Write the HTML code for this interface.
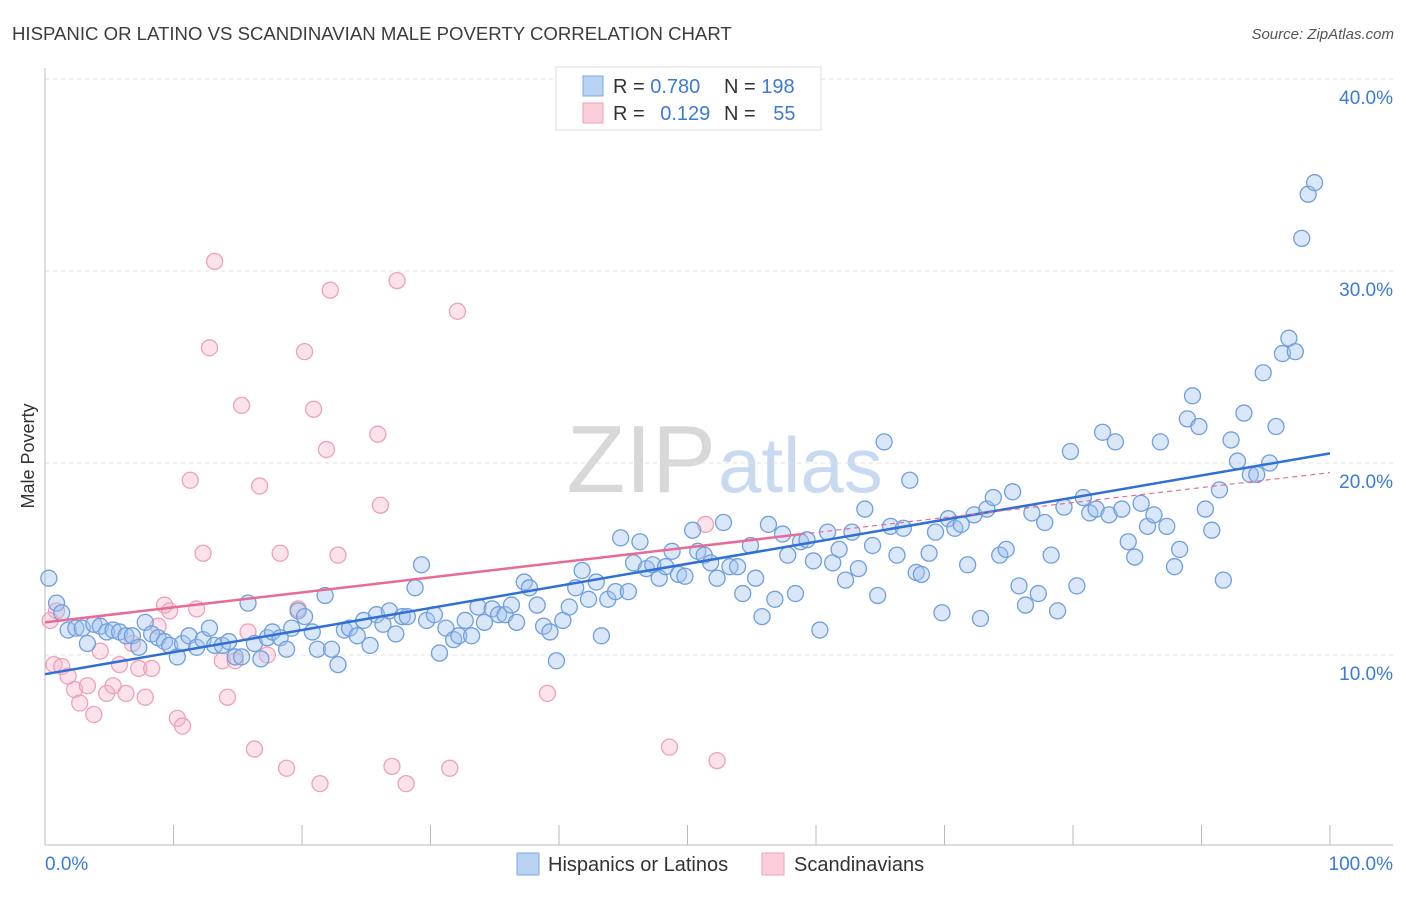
<!DOCTYPE html>
<html><head><meta charset="utf-8"><style>
body{margin:0;background:#fff;font-family:"Liberation Sans",sans-serif;}
svg text{font-family:"Liberation Sans",sans-serif;}
</style></head><body>
<svg id="chart" width="1406" height="892" viewBox="0 0 1406 892" xmlns="http://www.w3.org/2000/svg">
<text x="12" y="40" font-size="18.6" fill="#3c3c3c">HISPANIC OR LATINO VS SCANDINAVIAN MALE POVERTY CORRELATION CHART</text>
<text x="1394" y="39" font-size="15" fill="#555" font-style="italic" text-anchor="end">Source: ZipAtlas.com</text>
<text x="716" y="492" font-size="96" fill="#d8d8d8" text-anchor="end" font-family="Liberation Serif">ZIP</text>
<text x="718" y="492" font-size="78" fill="#c8daf0">atlas</text>
<text transform="translate(34,456) rotate(-90)" font-size="18" fill="#333" text-anchor="middle">Male Poverty</text>
<g id="grid"></g><g id="axes"></g><g id="pink"></g><g id="blue"></g><g id="lines"></g>
<g>
<rect x="556" y="67" width="265" height="63" fill="#fff" stroke="#ddd"/>
<rect x="583" y="76" width="20" height="20" fill="#b9d3f5" stroke="#7aa8e0"/>
<rect x="583" y="103" width="20" height="20" fill="#fbcdda" stroke="#eea0b8"/>
<text x="613" y="93" font-size="20" fill="#333">R = <tspan fill="#3a7bd5">0.780</tspan></text>
<text x="724" y="93" font-size="20" fill="#333">N = <tspan fill="#3a7bd5">198</tspan></text>
<text x="613" y="120" font-size="20" fill="#333">R = <tspan fill="#3a7bd5" dx="10">0.129</tspan></text>
<text x="724" y="120" font-size="20" fill="#333">N = <tspan fill="#3a7bd5" dx="12">55</tspan></text>
</g>
<g>
<rect x="517" y="853" width="22" height="22" fill="#b9d3f5" stroke="#7aa8e0"/>
<text x="548" y="871" font-size="20" fill="#333">Hispanics or Latinos</text>
<rect x="762" y="853" width="22" height="22" fill="#fbcdda" stroke="#eea0b8"/>
<text x="794" y="871" font-size="20" fill="#333">Scandinavians</text>
</g>
</svg>
<script>
const yTicks=[10,20,30,40];
const yTickLabels=["10.0%","20.0%","30.0%","40.0%"];
const xTicks=[0,10,20,30,40,50,60,70,80,90,100];
const blueX=[0.3,0.9,1.3,1.8,2.4,2.9,3.3,3.8,4.3,4.8,5.3,5.8,6.3,6.8,7.3,7.8,8.3,8.8,9.3,9.7,10.3,10.7,11.2,11.8,12.3,12.8,13.2,13.8,14.3,14.8,15.3,15.8,16.3,16.8,17.3,17.7,18.3,18.8,19.2,19.7,20.2,20.8,21.2,21.8,22.3,22.8,23.3,23.7,24.3,24.8,25.3,25.8,26.3,26.8,27.3,27.8,28.2,28.8,29.3,29.7,30.3,30.7,31.2,31.8,32.2,32.7,33.2,33.7,34.2,34.8,35.3,35.8,36.3,36.7,37.3,37.7,38.3,38.8,39.3,39.8,40.3,40.8,41.3,41.8,42.3,42.9,43.3,43.8,44.4,44.8,45.4,45.8,46.3,46.8,47.3,47.8,48.3,48.8,49.3,49.8,50.4,50.8,51.3,51.8,52.3,52.8,53.3,53.9,54.3,54.9,55.3,55.8,56.3,56.8,57.4,57.8,58.4,58.8,59.3,59.8,60.3,60.9,61.3,61.8,62.3,62.8,63.3,63.8,64.4,64.8,65.3,65.8,66.3,66.8,67.3,67.8,68.2,68.8,69.3,69.8,70.3,70.8,71.3,71.8,72.3,72.8,73.3,73.8,74.3,74.8,75.3,75.8,76.3,76.8,77.3,77.8,78.3,78.8,79.3,79.8,80.3,80.8,81.3,81.8,82.3,82.8,83.3,83.8,84.3,84.8,85.3,85.8,86.3,86.8,87.3,87.9,88.3,88.9,89.3,89.8,90.3,90.8,91.4,91.7,92.3,92.8,93.3,93.8,94.3,94.8,95.3,95.8,96.3,96.8,97.3,97.8,98.3,98.8];
const blueY=[14.0,12.7,12.2,11.3,11.4,11.4,10.6,11.6,11.5,11.2,11.3,11.2,11.0,11.0,10.4,11.7,11.1,10.9,10.7,10.5,9.9,10.6,11.0,10.4,10.8,11.4,10.5,10.5,10.7,9.9,9.9,12.7,10.6,9.8,10.9,11.2,10.9,10.3,11.4,12.3,12.0,11.2,10.3,13.1,10.3,9.5,11.3,11.4,11.0,11.8,10.5,12.1,11.6,12.3,11.1,12.0,12.0,13.5,14.7,11.8,12.1,10.1,11.4,10.8,11.0,11.8,11.0,12.5,11.7,12.4,12.1,12.1,12.6,11.7,13.8,13.5,12.6,11.5,11.2,9.7,11.8,12.5,13.5,14.4,12.9,13.8,11.0,12.9,13.3,16.1,13.3,14.8,15.9,14.5,14.7,14.0,14.6,15.4,14.2,14.1,16.5,15.4,15.2,14.8,14.0,16.9,14.6,14.6,13.2,15.7,14.0,12.0,16.8,12.9,16.3,15.2,13.2,15.9,16.0,14.9,11.3,16.4,14.8,15.5,13.9,16.4,14.5,17.6,15.7,13.1,21.1,16.7,15.2,16.6,19.1,14.3,14.2,15.3,16.4,12.2,17.1,16.6,16.8,14.7,17.3,11.9,17.6,18.2,15.2,15.5,18.5,13.6,12.6,17.4,13.2,16.9,15.2,12.3,17.7,20.6,13.6,18.2,17.4,17.6,21.6,17.3,21.1,17.6,15.9,15.1,17.9,16.7,17.3,21.1,16.7,14.6,15.5,22.3,23.5,21.9,17.6,16.5,18.6,13.9,21.2,20.1,22.6,19.4,19.4,24.7,20.0,21.9,25.7,26.5,25.8,31.7,34.0,34.6];
const pinkX=[0.4,0.9,0.7,1.3,1.8,2.3,2.7,3.3,3.8,4.3,4.8,5.3,5.8,6.3,6.8,7.3,7.8,8.3,8.8,9.3,9.7,10.3,10.7,11.3,11.8,12.3,12.8,13.2,13.8,14.2,14.8,15.3,15.8,16.3,16.7,17.3,18.3,18.8,19.7,20.2,20.9,21.4,21.9,22.2,22.8,25.9,26.1,27.0,27.4,28.1,31.5,32.1,39.1,48.6,51.4,52.3];
const pinkY=[11.8,12.3,9.5,9.4,8.9,8.2,7.5,8.4,6.9,10.2,8.0,8.4,9.5,8.0,10.6,9.3,7.8,9.3,11.5,12.6,12.3,6.7,6.3,19.1,12.4,15.3,26.0,30.5,9.7,7.8,9.7,23.0,11.2,5.1,18.8,10.0,15.3,4.1,12.4,25.8,22.8,3.3,20.7,29.0,15.2,21.5,17.8,4.2,29.5,3.3,4.1,27.9,8.0,5.2,16.8,4.5];
const blueTrend=[9.0,0.115];
const pinkTrend=[11.7,0.078];
const pinkSolidEnd=58.8;

const NS="http://www.w3.org/2000/svg";
const X=v=>45+v*12.85;
const Y=v=>847-v*19.2;
function mk(tag,attrs,parent){const e=document.createElementNS(NS,tag);for(const k in attrs)e.setAttribute(k,attrs[k]);document.getElementById(parent).appendChild(e);return e;}
yTicks.forEach((t,i)=>{
  const l=mk('line',{x1:45,x2:1393,y1:Y(t),y2:Y(t),stroke:'#e0e0e0','stroke-dasharray':'4,4'},'grid');
  
  
  const tx=mk('text',{x:1393,y:Y(t)+25,'font-size':19,fill:'#3a7bd5','text-anchor':'end'},'grid');
  tx.textContent=yTickLabels[i];
  
  
});
const topGrid=mk('line',{x1:45,x2:1393,y1:79,y2:79,stroke:'#e0e0e0','stroke-dasharray':'4,4'},'grid');


const ax=mk('line',{x1:45,x2:45,y1:68,y2:845,stroke:'#bbb'},'axes');


const bx=mk('line',{x1:45,x2:1393,y1:845,y2:845,stroke:'#bbb'},'axes');


xTicks.forEach(t=>{
  const l=mk('line',{x1:X(t),x2:X(t),y1:825,y2:845,stroke:'#bbb'},'axes');
  
  
});
const x0=mk('text',{x:45,y:870,'font-size':19,fill:'#3a7bd5'},'axes');x0.textContent='0.0%';


const x1=mk('text',{x:1393,y:870,'font-size':19,fill:'#3a7bd5','text-anchor':'end'},'axes');x1.textContent='100.0%';


pinkX.forEach((x,i)=>{
  const c=mk('circle',{cx:X(x),cy:Y(pinkY[i]),r:8,fill:'rgba(246,175,198,0.35)',stroke:'#eea0b8','stroke-width':1.3},'pink');
  
  
});
blueX.forEach((x,i)=>{
  const c=mk('circle',{cx:X(x),cy:Y(blueY[i]),r:8,fill:'rgba(160,196,240,0.4)',stroke:'#6f9fdc','stroke-width':1.3},'blue');
  
  
});
const bl=mk('line',{x1:X(0),y1:Y(blueTrend[0]),x2:X(100),y2:Y(blueTrend[0]+blueTrend[1]*100),stroke:'#2f6fd6','stroke-width':2.5},'lines');


const pl=mk('line',{x1:X(0),y1:Y(pinkTrend[0]),x2:X(pinkSolidEnd),y2:Y(pinkTrend[0]+pinkTrend[1]*pinkSolidEnd),stroke:'#e86a96','stroke-width':2.5},'lines');


const pd=mk('line',{x1:X(pinkSolidEnd),y1:Y(pinkTrend[0]+pinkTrend[1]*pinkSolidEnd),x2:X(100),y2:Y(pinkTrend[0]+pinkTrend[1]*100),stroke:'#e86a96','stroke-width':1.2,'stroke-dasharray':'5,4'},'lines');


</script>
</body></html>
